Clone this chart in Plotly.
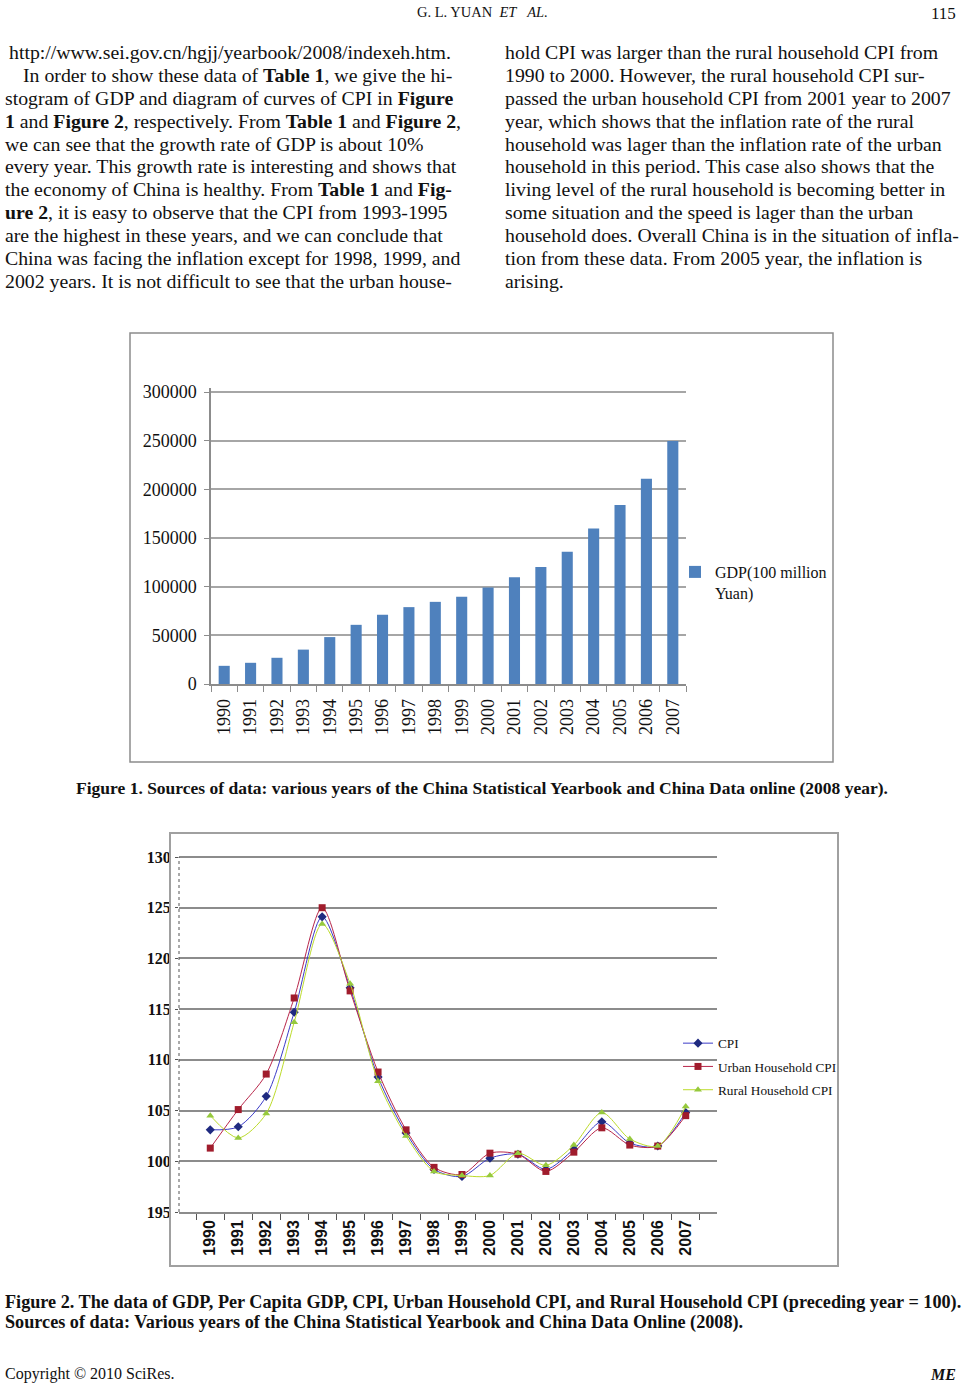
import plotly.graph_objects as go

W, H = 965, 1386


def fx(x):
    return x / W


def fy(y):
    return 1 - y / H


# ---------------- data ----------------
years = [str(y) for y in range(1990, 2008)]
gdp = [18668, 21781, 26923, 35334, 48198, 60794, 71177, 78973, 84402,
       89677, 99215, 109655, 120333, 135823, 159878, 183868, 210871, 249530]
cpi = [103.1, 103.4, 106.4, 114.7, 124.1, 117.1, 108.3, 102.8, 99.2,
       98.5, 100.3, 100.7, 99.2, 101.2, 103.9, 101.8, 101.5, 104.8]
urban_cpi = [101.3, 105.1, 108.6, 116.1, 125.0, 116.8, 108.8, 103.1, 99.4,
             98.7, 100.8, 100.7, 99.0, 100.9, 103.3, 101.6, 101.5, 104.5]
rural_cpi = [104.5, 102.3, 104.7, 113.7, 123.4, 117.5, 107.9, 102.5, 99.0,
             98.6, 98.6, 100.8, 99.6, 101.6, 104.8, 102.2, 101.5, 105.4]
gdp_tickvals = [0, 50000, 100000, 150000, 200000, 250000, 300000]
cpi_tickvals = [95, 100, 105, 110, 115, 120, 125, 130]
cpi_ticktext = ["195", "100", "105", "110", "115", "120", "125", "130"]

left_lines = [
    "http://www.sei.gov.cn/hgjj/yearbook/2008/indexeh.htm.",
    "In order to show these data of <b>Table 1</b>, we give the hi-",
    "stogram of GDP and diagram of curves of CPI in <b>Figure</b>",
    "<b>1</b> and <b>Figure 2</b>, respectively. From <b>Table 1</b> and <b>Figure 2</b>,",
    "we can see that the growth rate of GDP is about 10%",
    "every year. This growth rate is interesting and shows that",
    "the economy of China is healthy. From <b>Table 1</b> and <b>Fig-</b>",
    "<b>ure 2</b>, it is easy to observe that the CPI from 1993-1995",
    "are the highest in these years, and we can conclude that",
    "China was facing the inflation except for 1998, 1999, and",
    "2002 years. It is not difficult to see that the urban house-",
]
right_lines = [
    "hold CPI was larger than the rural household CPI from",
    "1990 to 2000. However, the rural household CPI sur-",
    "passed the urban household CPI from 2001 year to 2007",
    "year, which shows that the inflation rate of the rural",
    "household was lager than the inflation rate of the urban",
    "household in this period. This case also shows that the",
    "living level of the rural household is becoming better in",
    "some situation and the speed is lager than the urban",
    "household does. Overall China is in the situation of infla-",
    "tion from these data. From 2005 year, the inflation is",
    "arising.",
]

SERIF = "Liberation Serif"
SANS = "Liberation Sans"

fig = go.Figure()

# ---------------- Figure 1: GDP bars ----------------
fig.add_trace(go.Bar(
    x=years, y=gdp, name="GDP(100 million<br>Yuan)",
    marker=dict(color="#4F81BD", line=dict(width=0)),
    xaxis="x", yaxis="y", legend="legend", showlegend=True,
))

# ---------------- Figure 2: CPI lines ----------------
fig.add_trace(go.Scatter(
    x=years, y=cpi, name="CPI", mode="lines+markers", legendgroup="g1",
    line=dict(color="#3B3BC8", width=1, shape="spline", smoothing=0.8),
    marker=dict(symbol="diamond", size=7, color="#1F2A80"),
    xaxis="x2", yaxis="y2", legend="legend2",
))
fig.add_trace(go.Scatter(
    x=years, y=urban_cpi, name="Urban Household CPI", mode="lines+markers", legendgroup="g2",
    line=dict(color="#B8264A", width=1, shape="spline", smoothing=0.8),
    marker=dict(symbol="square", size=7, color="#A01C2C"),
    xaxis="x2", yaxis="y2", legend="legend2",
))
fig.add_trace(go.Scatter(
    x=years, y=rural_cpi, name="Rural Household CPI", mode="lines+markers", legendgroup="g3",
    line=dict(color="#BCDB2A", width=1, shape="spline", smoothing=0.8),
    marker=dict(symbol="triangle-up", size=7, color="#96C93D"),
    xaxis="x2", yaxis="y2", legend="legend2",
))

annotations = []


def add_text(text, x, y, size, xanchor="left", family=SERIF, color="#111111"):
    annotations.append(dict(
        text=text, x=fx(x), y=fy(y), xref="paper", yref="paper",
        xanchor=xanchor, yanchor="middle", showarrow=False,
        font=dict(family=family, size=size, color=color),
    ))


# header
add_text("G. L. YUAN\u00a0\u00a0<i>ET\u00a0\u00a0\u00a0AL.</i>", 482, 12, 14.5, "center")
add_text("115", 958, 14, 17, "right")

# body text
for i, t in enumerate(left_lines):
    x0 = 7 if i == 0 else (21 if i == 1 else 3)
    add_text(t, x0, 52 + 22.9 * i, 19.8)
for i, t in enumerate(right_lines):
    add_text(t, 503, 52 + 22.9 * i, 19.8)

# captions
add_text("<b>Figure 1. Sources of data: various years of the China Statistical Yearbook and China Data online (2008 year).</b>",
         482, 788, 17.5, "center")
add_text("<b>Figure 2. The data of GDP, Per Capita GDP, CPI, Urban Household CPI, and Rural Household CPI (preceding year = 100).</b>",
         3, 1302, 18.2)
add_text("<b>Sources of data: Various years of the China Statistical Yearbook and China Data Online (2008).</b>",
         3, 1322, 18.2)

# footer
add_text("Copyright \u00a9 2010 SciRes.", 3, 1374, 16)
add_text("<b><i>ME</i></b>", 958, 1374, 16, "right")

shapes = [
    # chart frames
    dict(type="rect", xref="paper", yref="paper", x0=fx(130), x1=fx(833), y0=fy(762), y1=fy(333),
         line=dict(color="#8C8C8C", width=1.5), fillcolor="rgba(0,0,0,0)"),
    dict(type="rect", xref="paper", yref="paper", x0=fx(170), x1=fx(838), y0=fy(1266), y1=fy(833),
         line=dict(color="#A0A0A0", width=2), fillcolor="rgba(0,0,0,0)"),
    # dotted value axis of Figure 2
    dict(type="line", xref="paper", yref="paper", x0=fx(179), x1=fx(179), y0=fy(1212), y1=fy(857),
         line=dict(color="#555555", width=1, dash="dot")),
]

# y ranges extended slightly so that the top gridline is not clipped at the plot edge
gdp_top = 300000 * (684 - 388) / (684 - 392)
cpi_top = 95 + 35 * (1212 - 853) / (1212 - 857)

fig.update_layout(
    width=W, height=H, autosize=False,
    margin=dict(l=0, r=0, t=0, b=0),
    paper_bgcolor="white", plot_bgcolor="white",
    bargap=0.58, showlegend=True,
    annotations=annotations, shapes=shapes,
    xaxis=dict(
        domain=[fx(211), fx(686)], anchor="y", type="category",
        showline=True, linecolor="#8C8C8C", linewidth=1.5,
        ticks="outside", tickson="boundaries", ticklen=6, tickcolor="#8C8C8C",
        tickangle=-90, tickfont=dict(family=SERIF, size=18, color="#111111"),
        ticklabelstandoff=6, showgrid=False, automargin=False,
    ),
    yaxis=dict(
        domain=[fy(684), fy(388)], anchor="x", range=[0, gdp_top],
        tickvals=gdp_tickvals, tickformat="d",
        showline=True, linecolor="#8C8C8C", linewidth=1.5,
        ticks="outside", ticklen=5, tickcolor="#8C8C8C",
        showgrid=True, gridcolor="#A6A6A6", gridwidth=1.5, zeroline=False,
        tickfont=dict(family=SERIF, size=18, color="#111111"),
        ticklabelstandoff=4, automargin=False,
    ),
    xaxis2=dict(
        domain=[fx(179), fx(717)], anchor="y2", type="category",
        showline=True, linecolor="#8C8C8C", linewidth=1.5,
        ticks="outside", tickson="boundaries", ticklen=6, tickcolor="#555555",
        tickangle=-90, tickfont=dict(family=SANS, size=16, color="#111111", weight="bold"),
        showgrid=False, automargin=False,
    ),
    yaxis2=dict(
        domain=[fy(1212), fy(853)], anchor="x2", range=[95, cpi_top],
        tickvals=cpi_tickvals, ticktext=cpi_ticktext,
        showline=False, ticks="outside", ticklen=3, tickcolor="#555555",
        showgrid=True, gridcolor="#8C8C8C", gridwidth=1.5, zeroline=False,
        tickfont=dict(family=SERIF, size=16, color="#111111", weight="bold"),
        ticklabelstandoff=1, automargin=False,
    ),
    legend=dict(
        x=fx(675), y=fy(555), xanchor="left", yanchor="top", visible=True,
        bgcolor="rgba(0,0,0,0)", valign="top",
        font=dict(family=SERIF, size=16, color="#111111"),
    ),
    legend2=dict(
        x=fx(678), y=fy(1028), xanchor="left", yanchor="top", visible=True,
        bgcolor="rgba(0,0,0,0)", tracegroupgap=3, traceorder="grouped",
        font=dict(family=SERIF, size=13.3, color="#111111"),
    ),
)

fig.write_html("out.html", config={"displayModeBar": False},
               post_script="document.body.style.margin='0px';")
